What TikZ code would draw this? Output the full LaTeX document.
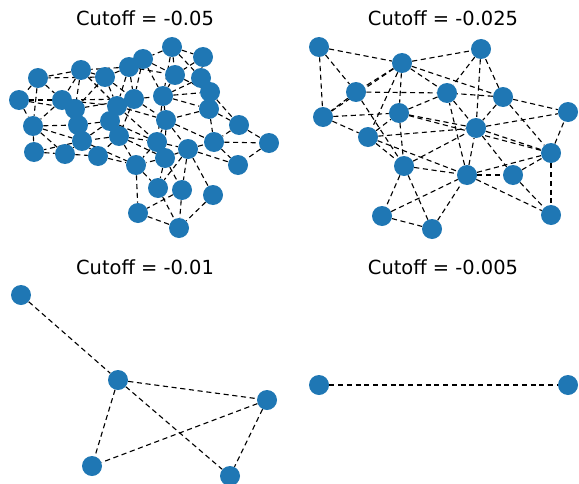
\documentclass[tikz,border=0pt]{standalone}
\usepackage{fontspec}
\setmainfont{DejaVu Sans}
\usetikzlibrary{backgrounds}
\definecolor{nodeblue}{RGB}{31,119,180}
\begin{document}
\begin{tikzpicture}[x=0.72pt,y=-0.72pt,
  vtx/.style={circle,fill=nodeblue,draw=none,minimum size=14.4pt,inner sep=0pt},
  edge/.style={draw=black,line width=0.8pt,dash pattern=on 3.7pt off 2.6pt},
  ttl/.style={font=\fontsize{14}{16}\selectfont,inner sep=0pt}]
\useasboundingbox (0,0) rectangle (579,483);

% panel titles
\node[ttl] (t1) at (145,18) {Cutoff = -0.05};
\node[ttl] (t2) at (443,18) {Cutoff = -0.025};
\node[ttl] (t3) at (145,267) {Cutoff = -0.01};
\node[ttl] (t4) at (443,267) {Cutoff = -0.005};

% cutoff -0.05
\foreach \n/\x/\y in {1/172/47,2/203/57,3/143/59,4/129/67,5/81/70,6/105/77,7/38/78,
  8/175/75,9/201/78,10/19/100,11/62/100,12/134/99,13/163/96,14/210/92,15/75/109,
  16/117/106,17/209/109,18/110/121,19/78/125,20/33/126,21/166/120,22/239/125,
  23/119/136,24/82/141,25/157/142,26/34/152,27/65/154,28/98/156,29/165/158,
  30/188/149,31/214/142,32/269/143,33/136/165,34/238/165,35/158/188,36/182/190,
  37/213/195,38/138/213,39/179/228}
  \node[vtx] (a\n) at (\x,\y) {};
\begin{scope}[on background layer]
\foreach \p/\q in {1/2,1/3,1/8,1/13,1/9,2/8,2/9,3/4,3/8,3/13,3/12,4/5,4/6,4/12,4/16,4/8,
  5/6,5/7,5/11,5/15,5/16,6/7,6/15,6/12,6/16,7/10,7/11,7/20,8/13,8/14,9/14,9/13,
  10/11,10/20,10/15,11/16,11/12,11/20,11/15,12/15,12/13,12/16,12/21,13/14,13/17,
  13/21,13/25,14/17,14/22,16/21,16/18,16/25,17/21,17/22,17/31,18/19,18/23,18/24,
  18/25,19/15,19/24,19/28,20/26,20/27,20/24,20/19,21/25,21/29,21/30,21/31,22/31,
  22/32,23/24,23/28,23/33,23/25,23/29,24/26,24/27,24/28,24/33,25/30,25/33,25/29,
  26/27,27/28,28/33,29/30,29/33,29/35,29/36,30/31,30/34,30/35,30/36,30/37,31/32,
  31/34,32/34,33/35,33/38,35/39,36/39,36/38,37/39,38/39,12/23}
  \draw[edge] (a\p) -- (a\q);
\end{scope}

% cutoff -0.025
\foreach \n/\x/\y in {1/319/47,2/481/49,3/402/63,4/356/92,5/447/93,6/503/97,7/399/113,
  8/323/117,9/568/112,10/476/128,11/368/137,12/551/153,13/404/166,14/467/175,
  15/513/175,16/382/216,17/432/229,18/551/215}
  \node[vtx] (b\n) at (\x,\y) {};
\begin{scope}[on background layer]
\foreach \p/\q in {1/3,1/8,1/4,3/2,3/4,3/8,3/7,3/11,3/5,3/6,4/5,4/8,4/13,8/7,8/11,
  11/7,11/10,11/13,11/14,7/5,7/10,7/12,7/13,13/10,13/14,13/16,13/17,16/17,16/14,
  17/14,14/18,14/15,14/10,14/12,14/5,10/12,10/15,15/18,15/12,12/18,12/9,6/9,6/12,
  6/10,6/2,6/5,2/5,2/10,5/10,10/9}
  \draw[edge] (b\p) -- (b\q);
\end{scope}

% cutoff -0.01
\node[vtx] (c1) at (21,295) {};
\node[vtx] (c2) at (118,380) {};
\node[vtx] (c3) at (267,400) {};
\node[vtx] (c4) at (92,466) {};
\node[vtx] (c5) at (230,476) {};
\begin{scope}[on background layer]
\foreach \p/\q in {1/2,2/3,2/4,2/5,3/4,3/5}
  \draw[edge] (c\p) -- (c\q);
\end{scope}

% cutoff -0.005
\node[vtx] (d1) at (319,385) {};
\node[vtx] (d2) at (568,385) {};
\begin{scope}[on background layer]
\draw[edge] (d1) -- (d2);
\end{scope}
\end{tikzpicture}
\end{document}
